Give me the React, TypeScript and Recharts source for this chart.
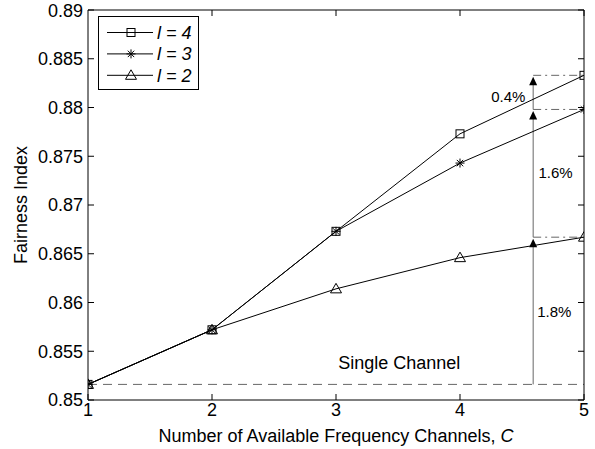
import {
  LineChart,
  Line,
  XAxis,
  YAxis,
  Legend,
  ReferenceLine,
  ReferenceDot,
} from 'recharts'

// valores
const channels = [1, 2, 3, 4, 5]
const fairnessL4 = [0.8516, 0.8572, 0.8673, 0.8773, 0.8833]
const fairnessL3 = [0.8516, 0.8572, 0.8673, 0.8743, 0.8798]
const fairnessL2 = [0.8516, 0.8572, 0.8614, 0.8646, 0.8667]
const singleChannel = 0.8516

const seriesKeys = ['l4', 'l3', 'l2']
const xTicks = [1, 2, 3, 4, 5]
const yTicks = [0.85, 0.855, 0.86, 0.865, 0.87, 0.875, 0.88, 0.885, 0.89]

const arrowX = 4.59
const gainLabels = [
  { x: 4.39, y: 0.8811, text: '0.4%' },
  { x: 4.77, y: 0.8733, text: '1.6%' },
  { x: 4.76, y: 0.8591, text: '1.8%' },
]
const singleLabel = { x: 3.51, y: 0.8538, text: 'Single Channel' }

const data = channels.map((c, i) => ({
  c,
  l4: fairnessL4[i],
  l3: fairnessL3[i],
  l2: fairnessL2[i],
}))

const last = channels.length - 1
// degraus das setas: canal único -> l=2 -> l=3 -> l=4
const steps = [singleChannel, fairnessL2[last], fairnessL3[last], fairnessL4[last]]

const FONT = '"Liberation Sans", Arial, Helvetica, sans-serif'
const FS = 18

function Marker({ kind, cx, cy }: { kind: string; cx: number; cy: number }) {
  if (kind === 'l4') {
    return <rect x={cx - 4} y={cy - 4} width={8} height={8} fill="none" stroke="#000" strokeWidth={1} />
  }
  if (kind === 'l3') {
    const r = 4.5
    const d = 3.2
    return (
      <g stroke="#000" strokeWidth={1}>
        <line x1={cx} y1={cy - r} x2={cx} y2={cy + r} />
        <line x1={cx - r} y1={cy} x2={cx + r} y2={cy} />
        <line x1={cx - d} y1={cy - d} x2={cx + d} y2={cy + d} />
        <line x1={cx - d} y1={cy + d} x2={cx + d} y2={cy - d} />
      </g>
    )
  }
  return (
    <polygon
      points={`${cx},${cy - 5.5} ${cx - 5.5},${cy + 4} ${cx + 5.5},${cy + 4}`}
      fill="none"
      stroke="#000"
      strokeWidth={1}
    />
  )
}

const dotFor = (kind: string) => (p: any) => (
  <Marker key={`${kind}-${p.index}`} kind={kind} cx={p.cx} cy={p.cy} />
)

function LegendBox(props: any) {
  const rows = [...(props.payload ?? [])].sort(
    (a: any, b: any) => seriesKeys.indexOf(a.dataKey) - seriesKeys.indexOf(b.dataKey)
  )
  return (
    <svg width={101} height={74} style={{ display: 'block' }}>
      <rect x={0.5} y={0.5} width={100} height={73} fill="#fff" stroke="#000" />
      {rows.map((e: any, i: number) => {
        const y = 16.5 + i * 21.4
        return (
          <g key={e.value}>
            <line x1={9} x2={55} y1={y} y2={y} stroke="#000" />
            <Marker kind={e.dataKey} cx={33} cy={y} />
            <text x={59} y={y} dy="0.36em" fontSize={FS} fontStyle="italic" fill="#000" fontFamily={FONT}>
              {e.value}
            </text>
          </g>
        )
      })}
    </svg>
  )
}

function ArrowShape(p: any) {
  const { x1, y1, x2, y2 } = p
  return (
    <g>
      <line x1={x1} y1={y1} x2={x2} y2={y2 + 4} stroke="#666" strokeWidth={1} />
      <polygon points={`${x2},${y2 + 1.5} ${x2 - 4},${y2 + 10} ${x2 + 4},${y2 + 10}`} fill="#000" />
    </g>
  )
}

const XTitle = (props: any) => {
  const vb = props.viewBox
  return (
    <text x={vb.x + vb.width / 2} y={vb.y + 42} textAnchor="middle" fontSize={FS} fill="#000" fontFamily={FONT}>
      Number of Available Frequency Channels, <tspan fontStyle="italic">C</tspan>
    </text>
  )
}

const YTitle = (props: any) => {
  const vb = props.viewBox
  const cx = vb.x + 12.5
  const cy = vb.y + vb.height / 2
  return (
    <text
      x={cx}
      y={cy}
      dy="0.36em"
      textAnchor="middle"
      fontSize={FS}
      fill="#000"
      fontFamily={FONT}
      transform={`rotate(-90, ${cx}, ${cy})`}
    >
      Fairness Index
    </text>
  )
}

export default function App() {
  const tickStyle = { fontSize: FS, fill: '#000', fontFamily: FONT }
  return (
    <div style={{ position: 'absolute', left: 0, top: 0, width: 595, height: 449, background: '#fff', fontFamily: FONT }}>
      <LineChart width={595} height={449} data={data} margin={{ top: 9, right: 10, left: 8, bottom: 0 }}>
        <XAxis
          dataKey="c"
          type="number"
          domain={[1, 5]}
          ticks={xTicks}
          allowDataOverflow
          height={49}
          tick={tickStyle}
          tickSize={-6}
          tickMargin={9}
          axisLine={{ stroke: '#000' }}
          tickLine={{ stroke: '#000' }}
          label={{ content: XTitle }}
        />
        <XAxis
          xAxisId="top"
          orientation="top"
          type="number"
          domain={[1, 5]}
          ticks={xTicks}
          allowDataOverflow
          height={1}
          tickFormatter={() => ''}
          tickSize={-6}
          axisLine={{ stroke: '#000' }}
          tickLine={{ stroke: '#000' }}
        />
        <YAxis
          type="number"
          domain={[0.85, 0.89]}
          ticks={yTicks}
          allowDataOverflow
          width={80}
          tick={tickStyle}
          tickSize={-6}
          tickMargin={11}
          tickFormatter={(v: number) => String(v)}
          axisLine={{ stroke: '#000' }}
          tickLine={{ stroke: '#000' }}
          label={{ content: YTitle }}
        />
        <YAxis
          yAxisId="right"
          orientation="right"
          type="number"
          domain={[0.85, 0.89]}
          ticks={yTicks}
          allowDataOverflow
          width={1}
          tickFormatter={() => ''}
          tickSize={-6}
          axisLine={{ stroke: '#000' }}
          tickLine={{ stroke: '#000' }}
        />

        <ReferenceLine y={singleChannel} stroke="#666" strokeDasharray="9 6" strokeWidth={1} />
        {steps.slice(1).map((v) => (
          <ReferenceLine
            key={`dd-${v}`}
            segment={[
              { x: arrowX, y: v },
              { x: 5, y: v },
            ]}
            stroke="#666"
            strokeDasharray="8 4 2 4"
            strokeWidth={1}
          />
        ))}
        {steps.slice(1).map((v, i) => (
          <ReferenceLine
            key={`ar-${v}`}
            segment={[
              { x: arrowX, y: steps[i] },
              { x: arrowX, y: v },
            ]}
            shape={ArrowShape}
          />
        ))}

        <Line dataKey="l4" name="l = 4" stroke="#000" strokeWidth={1} dot={dotFor('l4')} activeDot={false} isAnimationActive={false} />
        <Line dataKey="l3" name="l = 3" stroke="#000" strokeWidth={1} dot={dotFor('l3')} activeDot={false} isAnimationActive={false} />
        <Line dataKey="l2" name="l = 2" stroke="#000" strokeWidth={1} dot={dotFor('l2')} activeDot={false} isAnimationActive={false} />

        {gainLabels.map((g) => (
          <ReferenceDot
            key={g.text}
            x={g.x}
            y={g.y}
            r={0}
            fill="none"
            stroke="none"
            label={{ value: g.text, position: 'center', fontSize: 15, fill: '#000', fontFamily: FONT }}
          />
        ))}
        <ReferenceDot
          x={singleLabel.x}
          y={singleLabel.y}
          r={0}
          fill="none"
          stroke="none"
          label={{ value: singleLabel.text, position: 'center', fontSize: FS, fill: '#000', fontFamily: FONT }}
        />

        <Legend
          layout="vertical"
          align="center"
          verticalAlign="middle"
          content={LegendBox}
          wrapperStyle={{ position: 'absolute', left: 98, top: 16, width: 101, height: 74 }}
        />
      </LineChart>
    </div>
  )
}
